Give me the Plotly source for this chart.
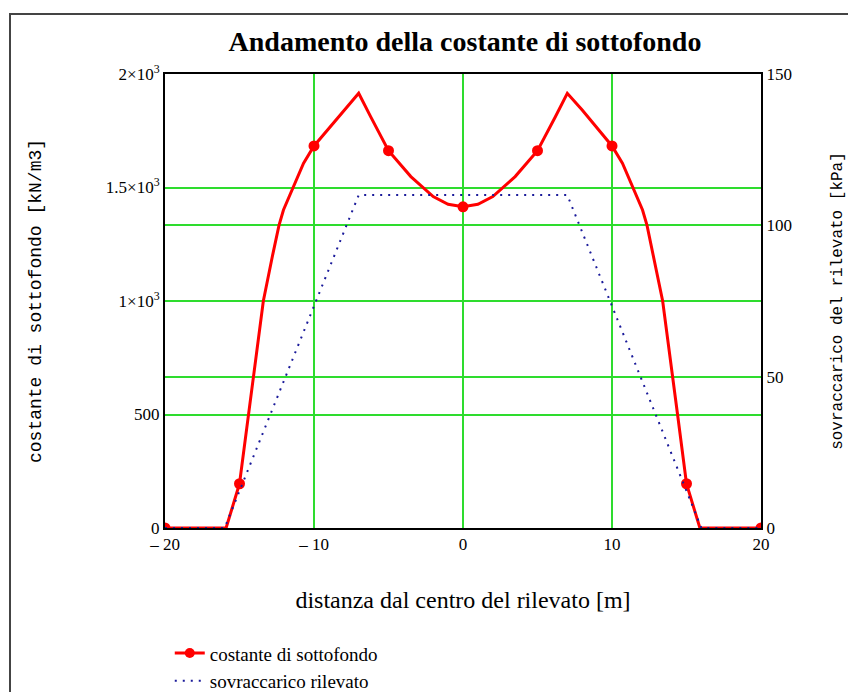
import plotly.graph_objects as go

# ---- data ----
x_red = [-20, -15.9, -15, -14.4, -13.4, -12.8, -12.35, -12.05, -11.4, -10.7, -10, -9.1, -8, -7,
         -6.2, -5, -3.5, -2, -1, 0, 1, 2, 3.5, 5, 6.2, 7, 8, 9.1, 10, 10.7, 11.4, 12.05,
         12.35, 12.8, 13.4, 14.4, 15, 15.9, 20]
y_red = [0, 0, 195, 500, 1000, 1195, 1333, 1401, 1504, 1607, 1683, 1753, 1841, 1915,
         1812, 1662, 1548, 1460, 1426, 1415, 1426, 1460, 1548, 1662, 1812, 1915, 1841, 1753, 1683, 1607, 1504, 1401,
         1333, 1195, 1000, 500, 195, 0, 0]

x_marks = [-20, -15, -10, -5, 0, 5, 10, 15, 20]
y_marks = [0, 195, 1683, 1662, 1415, 1662, 1683, 195, 0]

x_blue = [-20, -16, -7, 7, 16, 20]
y_blue = [0, 0, 110, 110, 0, 0]

x_tickvals = [-20, -10, 0, 10, 20]
x_ticktext = ["\u2013 20", "\u2013 10", "0", "10", "20"]
y_tickvals = [0, 500, 1000, 1500, 2000]
y_ticktext = ["0", "500", "1\u00d710<sup>3</sup>", "1.5\u00d710<sup>3</sup>", "2\u00d710<sup>3</sup>"]
y2_tickvals = [0, 50, 100, 150]
y2_ticktext = ["0", "50", "100", "150"]

RED = "#ff0000"
BLUE = "#1a1a9a"
GREEN = "#2edc2e"
FONT = "Liberation Serif"
MONO = "Liberation Mono"

# the page body has an 8px margin, so the figure is sized to fit the 856x692 window
W, H = 848, 684
L, T = 157, 66
PW, PH = 596, 454

fig = go.Figure()
fig.add_trace(go.Scatter(x=x_red, y=y_red, mode="lines", line=dict(color=RED, width=3),
                         showlegend=False, hoverinfo="skip"))
fig.add_trace(go.Scatter(x=x_marks, y=y_marks, mode="markers",
                         marker=dict(color=RED, size=11), showlegend=False))
fig.add_trace(go.Scatter(x=[None], y=[None], mode="lines+markers", name="costante di sottofondo",
                         line=dict(color=RED, width=3), marker=dict(color=RED, size=10)))
fig.add_trace(go.Scatter(x=x_blue, y=y_blue, mode="lines", name="sovraccarico rilevato",
                         line=dict(color=BLUE, width=2, dash="2px,6px"), yaxis="y2"))

axis_common = dict(showline=True, linecolor="black", linewidth=2, zeroline=False,
                   gridcolor=GREEN, gridwidth=2, ticks="",
                   tickfont=dict(family=FONT, size=17, color="black"))

fig.update_layout(
    width=W, height=H,
    paper_bgcolor="white", plot_bgcolor="white",
    margin=dict(l=L, r=W - L - PW, t=T, b=H - T - PH, autoexpand=False),
    font=dict(family=FONT, size=17, color="black"),
    title=dict(text="<b>Andamento della costante di sottofondo</b>", x=457 / W, xanchor="center",
               y=1 - 33 / H, yanchor="middle", font=dict(family=FONT, size=28, color="black")),
    xaxis=dict(range=[-20, 20], tickvals=x_tickvals, ticktext=x_ticktext, mirror=True,
               title=dict(text="distanza dal centro del rilevato [m]", standoff=38,
                          font=dict(family=FONT, size=24)),
               **axis_common),
    yaxis=dict(range=[0, 2000], tickvals=y_tickvals, ticktext=y_ticktext, mirror=False,
               title=dict(text="costante di sottofondo [kN/m3]", standoff=60,
                          font=dict(family=MONO, size=18)),
               **axis_common),
    yaxis2=dict(range=[0, 150], tickvals=y2_tickvals, ticktext=y2_ticktext, overlaying="y",
                side="right",
                title=dict(text="sovraccarico del rilevato [kPa]", standoff=40,
                           font=dict(family=MONO, size=16)),
                **axis_common),
    legend=dict(x=0.008, y=-0.234, xanchor="left", yanchor="top", bgcolor="rgba(0,0,0,0)",
                font=dict(family=FONT, size=19), tracegroupgap=0, itemwidth=30),
    shapes=[dict(type="rect", xref="paper", yref="paper",
                 x0=(2 - L) / PW, x1=1.5, y0=-1.0, y1=(T + PH - 6) / PH,
                 line=dict(color="#444444", width=2), fillcolor="rgba(0,0,0,0)", layer="below")],
)

fig.write_html("out.html")
